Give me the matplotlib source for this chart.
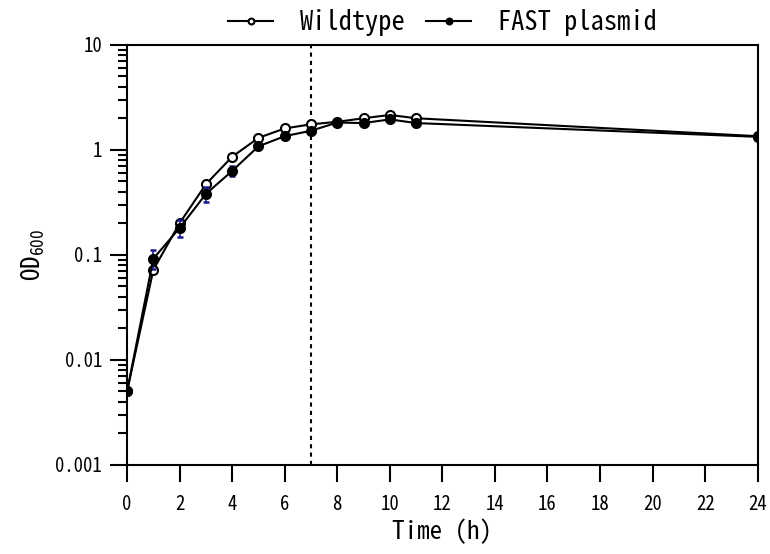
import matplotlib
matplotlib.use("Agg")
import matplotlib.pyplot as plt
from matplotlib.ticker import FixedLocator, LogLocator, NullFormatter

# OD600 growth curves
time_h = [0, 1, 2, 3, 4, 5, 6, 7, 8, 9, 10, 11, 24]
wildtype = [0.005, 0.072, 0.20, 0.47, 0.86, 1.30, 1.60, 1.75, 1.85, 2.00, 2.15, 2.00, 1.35]
fast = [0.005, 0.092, 0.18, 0.38, 0.63, 1.08, 1.35, 1.52, 1.82, 1.80, 1.95, 1.80, 1.33]
fast_err = [0, 0.018, 0.033, 0.06, 0.07, 0.05, 0.04, 0.04, 0.04, 0.04, 0.05, 0.04, 0.03]
wt_err = [0, 0.004, 0.01, 0.03, 0.03, 0.03, 0.03, 0.03, 0.03, 0.03, 0.04, 0.03, 0.03]
x_ticks = [0, 2, 4, 6, 8, 10, 12, 14, 16, 18, 20, 22, 24]
y_ticks = [0.001, 0.01, 0.1, 1, 10]
y_labels = ["0.001", "0.01", "0.1", "1", "10"]
shift_time = 7

mono = ["Noto Sans Mono CJK JP", "DejaVu Sans Mono"]
plt.rcParams['font.family'] = mono

fig = plt.figure(figsize=(7.7, 5.54), dpi=100)
ax = fig.add_axes([0.165, 0.161, 0.819, 0.758])

ax.axvline(shift_time, color='black', lw=1.5, linestyle=(0, (2, 2)), zorder=1)

ax.errorbar(time_h, wildtype, yerr=wt_err, fmt='none', ecolor='black',
            elinewidth=1.2, capsize=2.5, capthick=1.5, zorder=2)
ax.plot(time_h, wildtype, color='black', lw=1.5, marker='o', ms=6.5,
        mfc='white', mec='black', mew=1.5, label='Wildtype', zorder=3)
ax.errorbar(time_h, fast, yerr=fast_err, fmt='none', ecolor='#1a1a8c',
            elinewidth=1.2, capsize=2.5, capthick=1.8, zorder=4)
ax.plot(time_h, fast, color='black', lw=1.5, marker='o', ms=6.5,
        mfc='black', mec='black', mew=1.5, label='FAST plasmid', zorder=5)

ax.set_yscale('log')
ax.set_ylim(0.001, 10)
ax.set_xlim(0, 24)
ax.xaxis.set_major_locator(FixedLocator(x_ticks))
ax.set_xticklabels([str(t) for t in x_ticks])
ax.yaxis.set_major_locator(FixedLocator(y_ticks))
ax.set_yticklabels(y_labels)
ax.yaxis.set_minor_locator(LogLocator(base=10, subs=range(2, 10)))
ax.yaxis.set_minor_formatter(NullFormatter())

for s in ax.spines.values():
    s.set_linewidth(1.5)
ax.tick_params(axis='both', which='major', direction='out', length=12,
               width=1.5, labelsize=13.5)
ax.tick_params(axis='x', which='major', pad=10)
ax.tick_params(axis='y', which='major', pad=6)
ax.tick_params(axis='y', which='minor', direction='out', length=6.5, width=1.5)

ax.set_xlabel("Time (h)", fontsize=18, labelpad=3)
ax.set_ylabel(r"OD$_{\mathregular{600}}$", fontsize=18, labelpad=6)

ax.legend(loc='lower center', bbox_to_anchor=(0.5, 0.995), ncol=2, frameon=False,
          fontsize=19, markerscale=0.65, handlelength=1.7, columnspacing=0.8,
          handletextpad=1.0, borderaxespad=0.0)

fig.savefig("out.png", dpi=100)
